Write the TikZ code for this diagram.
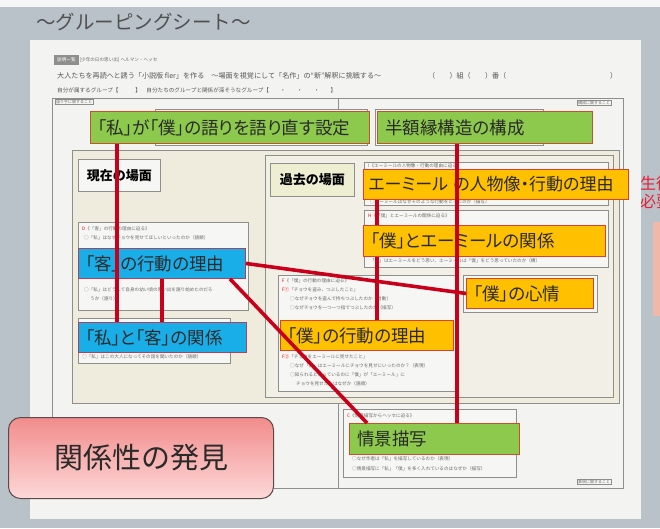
\documentclass[tikz,border=0pt]{standalone}
\usepackage{fontspec}
\setmainfont{Noto Sans CJK JP}
\newfontfamily\jp[RawFeature=+palt]{Noto Sans CJK JP}
\newfontfamily\jpt{Noto Sans CJK JP}
\definecolor{bggrey}{HTML}{B8C2C8}
\definecolor{paperc}{HTML}{F3F3F1}
\definecolor{framec}{HTML}{8E8E8A}
\definecolor{beige}{HTML}{EFEBDD}
\definecolor{beigein}{HTML}{F2EFE6}
\definecolor{subbox}{HTML}{F6F6F4}
\definecolor{pastc}{HTML}{EEEED2}
\definecolor{gfill}{HTML}{8CC94C}
\definecolor{gdraw}{HTML}{C8502A}
\definecolor{bfill}{HTML}{1AAEE8}
\definecolor{bdraw}{HTML}{B04060}
\definecolor{ofill}{HTML}{FFC000}
\definecolor{odraw}{HTML}{E0402A}
\definecolor{linec}{HTML}{C8001A}
\definecolor{txt}{HTML}{2A2A2A}
\definecolor{smalltxt}{HTML}{6A6A6A}
\definecolor{titlec}{HTML}{505050}
\definecolor{pinkA}{HTML}{F28C8C}
\definecolor{pinkB}{HTML}{FDD8D8}
\definecolor{pinkdraw}{HTML}{5A4A4A}
\definecolor{sidepink}{HTML}{F0B8A8}
\definecolor{redtxt}{HTML}{E8203A}
\begin{document}
\begin{tikzpicture}[x=1pt,y=-1pt,
  lbl/.style={anchor=north west,inner xsep=7pt,inner ysep=0pt,align=left,
    line width=0.9pt,text=txt,font=\jp\fontsize{17.5}{18}\selectfont},
  gbox/.style={lbl,fill=gfill,draw=gdraw},
  bbox/.style={lbl,fill=bfill,draw=bdraw},
  obox/.style={lbl,fill=ofill,draw=odraw},
  conn/.style={draw=linec,line width=3.6pt},
  frame/.style={draw=framec,line width=0.6pt},
  tiny/.style={anchor=west,inner sep=0pt,text=smalltxt,font=\jpt\fontsize{4.6}{5}\selectfont},
  head/.style={anchor=west,inner sep=0pt,text=txt!80,font=\jpt\fontsize{7.1}{7.5}\selectfont},
  tag/.style={anchor=north west,draw=framec,fill=subbox,line width=0.4pt,inner sep=0.8pt,text=smalltxt,font=\jpt\fontsize{4}{4.5}\selectfont},
  scene/.style={anchor=north west,draw=framec,line width=0.6pt,inner sep=4pt,text=black,font=\jpt\bfseries\fontsize{13}{14}\selectfont}
]
\useasboundingbox (0,0) rectangle (660,528);
\clip (0,0) rectangle (660,528);
% background
\fill[bggrey] (0,0) rectangle (660,528);
\fill[white!85!bggrey] (0,0) rectangle (660,7);
% title
\node[anchor=west,inner sep=0pt,text=titlec,font=\jpt\fontsize{19.5}{20}\selectfont] (title) at (36,22) {～グルーピングシート～};
% right side partial slide content
\node[anchor=north west,inner sep=0pt,text=redtxt,align=left,font=\jpt\fontsize{16}{18}\selectfont] (side) at (640,176) {生徒\\必要};
\fill[sidepink] (653,222) rectangle (660,316);
% paper
\fill[paperc] (30,40) rectangle (641,519);
\node[tiny] (h1) at (54,60) {\colorbox{framec}{\textcolor{white}{説明一覧}} [少年の日の思い出] ヘルマン・ヘッセ};
\node[head] (h2) at (57,76) {大人たちを再読へと誘う「小説版 fler」を作る　～場面を視覚にして「名作」の“新”解釈に挑戦する～};
\node[head] (h3) at (428,76) {（　　）組（　　）番（};
\node[head] (h4) at (610,76) {）};
\node[head,font=\jpt\fontsize{5.6}{6}\selectfont] (h5) at (57,90) {自分が属するグループ【　　　】　自分たちのグループと関係が深そうなグループ【　　・　　・　　・　　】};
% outer frame
\draw[frame] (52,98) rectangle (623,488);
\node[tag] (t1) at (55,99) {語り手に関すること};
\node[tag] (t2) at (577,100) {構成に関すること};
\node[tag] (t3) at (577,479) {表現に関すること};
\draw[frame] (338,98) -- (338,109);
\draw[frame,fill=subbox] (155,109) rectangle (367,145);
\draw[frame,fill=subbox] (375,109) rectangle (543,145);
% scene panels
\draw[frame,fill=beige] (72,150) rectangle (619,403);
\draw[frame,fill=beigein] (265,155) rectangle (613,397);
\draw[frame] (338,403) -- (338,488);
\node[scene,fill=subbox,minimum width=82pt,minimum height=32pt] (now) at (78,159) {現在の場面};
\node[scene,fill=pastc,minimum width=84pt,minimum height=33pt] (past) at (270,163) {過去の場面};
% sub boxes
\draw[frame,fill=subbox] (78,222) rectangle (248,310);
\node[tiny] (d1) at (82,229) {\textcolor{red}{D}《「客」の行動の理由に迫る》};
\node[tiny] (d2) at (84,238) {○「私」はなぜチョウを見せてほしいといったのか（語順）};
\node[tiny] (d3) at (84,290) {○「私」はどうして自身の幼い頃の思い出を語り始めたのだろ};
\node[tiny] (d4) at (90,299) {うか（語り）};
\draw[frame,fill=subbox] (78,318) rectangle (230,363);
\node[tiny] (e1) at (82,357) {○「私」はこの大人になってその話を聞いたのか（語順）};
\draw[frame,fill=subbox] (364,162) rectangle (608,205);
\node[tiny] (i1) at (368,166) {I《エーミールの人物像・行動の理由に迫る》};
\node[tiny] (i2) at (370,202) {○エーミールはなぜそのような行動をとったのか（描写）};
\draw[frame,fill=subbox] (364,210) rectangle (608,267);
\node[tiny] (hh1) at (368,216) {\textcolor{red}{H}《「僕」とエーミールの関係に迫る》};
\node[tiny] (hh2) at (370,261) {「僕」はエーミールをどう思い、エーミールは「僕」をどう思っていたのか（構）};
\draw[frame,fill=subbox] (278,275) rectangle (458,391);
\node[tiny] (f1) at (282,281) {\textcolor{red}{F}《「僕」の行動の理由に迫る》};
\node[tiny] (f2) at (282,290) {\textcolor{red}{F①}「チョウを盗み、つぶしたこと」};
\node[tiny] (f3) at (290,299) {○なぜチョウを盗んで持ちつぶしたのか（言動）};
\node[tiny] (f4) at (290,308) {○なぜチョウを一つ一つ指でつぶしたのか（描写）};
\node[tiny] (f5) at (282,357) {\textcolor{red}{F②}「チョウをエーミールに見せたこと」};
\node[tiny] (f6) at (290,366) {○なぜ「僕」はエーミールにチョウを見せにいったのか？（表現）};
\node[tiny] (f7) at (290,375) {○知られると思っているのに「僕」が「エーミール」に};
\node[tiny] (f8) at (296,384) {チョウを見せたのはなぜか（語順）};
\draw[frame,fill=subbox] (463,275) rectangle (597,312);
\draw[frame,fill=subbox] (343,409) rectangle (516,477);
\node[tiny] (c1) at (347,416) {\textcolor{red}{C}《情景描写からヘッセに迫る》};
\node[tiny] (c2) at (352,459) {○なぜ作者は「私」を描写しているのか（表現）};
\node[tiny] (c3) at (352,469) {○情景描写に「私」「僕」を多く入れているのはなぜか（描写）};
% overlay boxes
\node[gbox,minimum width=279pt,minimum height=32pt,text width=265pt] (g1) at (90,111) {「私」が「僕」の語りを語り直す設定};
\node[gbox,minimum width=215pt,minimum height=32pt,text width=199pt,inner xsep=8pt] (g2) at (377,111) {半額縁構造の構成};
\node[bbox,minimum width=167pt,minimum height=30pt,text width=153pt] (b3) at (78,248) {「客」の行動の理由};
\node[bbox,minimum width=168pt,minimum height=30pt,text width=154pt] (b4) at (78,322) {「私」と「客」の関係};
\node[obox,minimum width=265pt,minimum height=30pt,text width=255pt,inner xsep=5pt,font=\jp\fontsize{17}{18}\selectfont] (o5) at (363,169) {\mbox{エーミール\hspace{0.3em}の人物像・行動の理由}};
\node[obox,minimum width=242pt,minimum height=31pt,text width=228pt] (o6) at (363,225) {「僕」とエーミールの関係};
\node[obox,minimum width=127pt,minimum height=30pt,text width=113pt] (o7) at (466,278) {「僕」の心情};
\node[obox,minimum width=173pt,minimum height=30pt,text width=159pt] (o8) at (280,320) {「僕」の行動の理由};
\node[gbox,minimum width=170pt,minimum height=31pt,text width=154pt,inner xsep=8pt] (g9) at (349,423) {情景描写};
% x positions of connectors
\coordinate (xa) at (117,0);
\coordinate (xb) at (162,0);
\coordinate (xd1) at (230,0);
\coordinate (xd2) at (367,0);
\coordinate (xe) at (457,0);
\coordinate (xf) at (377,0);
% connectors
\draw[conn] (g1.south -| xa) -- (b4.north -| xa);
\draw[conn] (b3.south -| xb) -- (b4.north -| xb);
\draw[conn] (b3.east) -- (o7.west);
\draw[conn] (b3.south -| xd1) -- (g9.north -| xd2);
\draw[conn] (g2.south -| xe) -- (g9.north -| xe);
\draw[conn] (o5.south -| xf) -- (o6.north -| xf);
\draw[conn] (o6.south -| xf) -- (o8.north -| xf);
% discovery box
\node[anchor=north west,rounded corners=12pt,draw=pinkdraw,line width=1pt,
  shading=axis,left color=pinkA,right color=pinkB,shading angle=0,
  minimum width=265pt,minimum height=81pt,text=txt,
  font=\jpt\fontsize{29}{30}\selectfont,inner xsep=0pt] (disc) at (8,417) {関係性の発見};
\end{tikzpicture}
\end{document}
